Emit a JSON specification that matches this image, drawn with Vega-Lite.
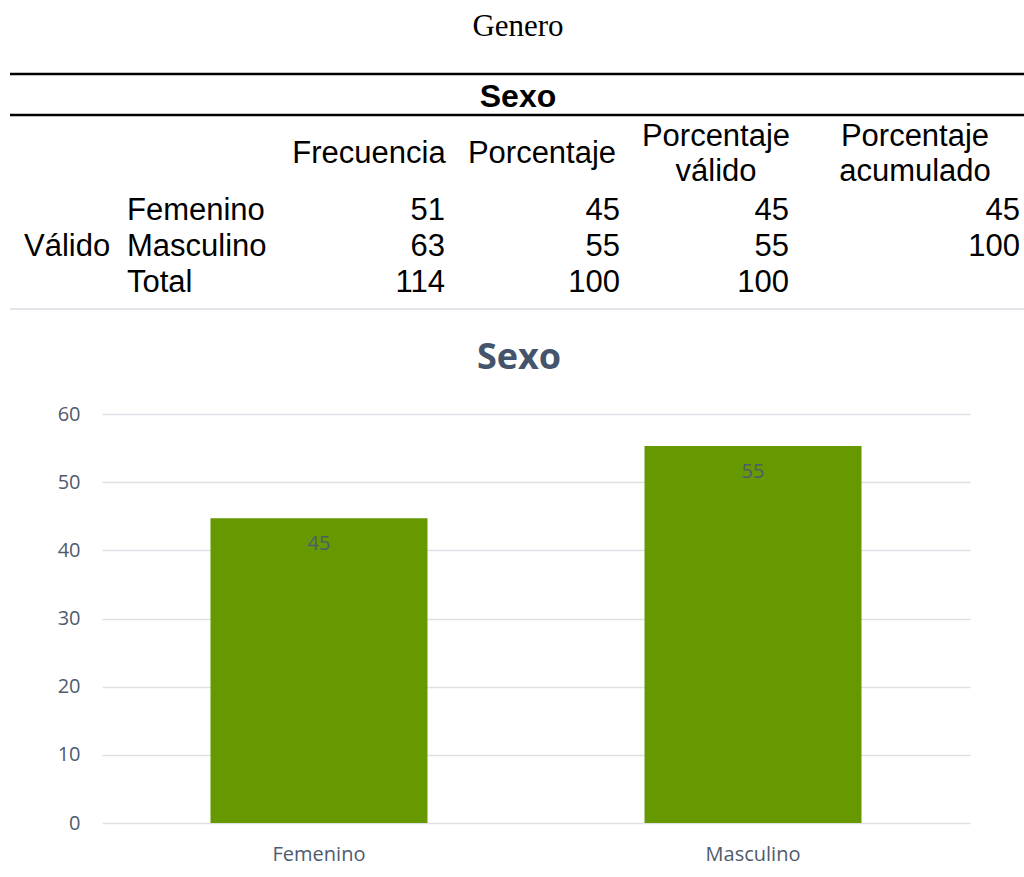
{
  "$schema": "https://vega.github.io/schema/vega-lite/v6.json",
  "padding": 0,
  "background": "white",
  "spacing": 30,
  "config": {"view": {"stroke": null}, "font": "Liberation Sans"},
  "datasets": {
    "titulo": [{"texto": "Genero", "fila": 0, "ancla": 5}],
    "encabezado": [{"texto": "Sexo", "fila": 2, "ancla": 5}],
    "reglas": [{"fila": 1, "desde": 0, "hasta": 12}, {"fila": 3, "desde": 0, "hasta": 12}],
    "reglaFinal": [{"fila": 8, "desde": 0, "hasta": 12}],
    "columnas": [
      {"texto": "Frecuencia", "fila": 4, "ancla": 3},
      {"texto": "Porcentaje", "fila": 4, "ancla": 6}
    ],
    "columnasDobles": [
      {"texto": "Porcentaje\nválido", "fila": 4, "ancla": 8},
      {"texto": "Porcentaje\nacumulado", "fila": 4, "ancla": 10}
    ],
    "etiquetas": [
      {"texto": "Válido", "fila": 6, "ancla": 1},
      {"texto": "Femenino", "fila": 5, "ancla": 2},
      {"texto": "Masculino", "fila": 6, "ancla": 2},
      {"texto": "Total", "fila": 7, "ancla": 2}
    ],
    "valores": [
      {"valor": "51", "fila": 5, "ancla": 4},
      {"valor": "45", "fila": 5, "ancla": 7},
      {"valor": "45", "fila": 5, "ancla": 9},
      {"valor": "45", "fila": 5, "ancla": 11},
      {"valor": "63", "fila": 6, "ancla": 4},
      {"valor": "55", "fila": 6, "ancla": 7},
      {"valor": "55", "fila": 6, "ancla": 9},
      {"valor": "100", "fila": 6, "ancla": 11},
      {"valor": "114", "fila": 7, "ancla": 4},
      {"valor": "100", "fila": 7, "ancla": 7},
      {"valor": "100", "fila": 7, "ancla": 9}
    ],
    "grafico": [
      {"sexo": "Femenino", "porcentaje": 44.7},
      {"sexo": "Masculino", "porcentaje": 55.3}
    ]
  },
  "vconcat": [
    {
      "width": 922,
      "height": 310,
      "layer": [
        {
          "data": {"name": "reglas"},
          "mark": {"type": "rule", "color": "black", "strokeWidth": 2.5},
          "encoding": {
            "x": {"field": "desde", "type": "quantitative", "axis": null,
              "scale": {"type": "linear", "domain": [0, 1, 2, 3, 4, 5, 6, 7, 8, 9, 10, 11, 12], "range": [-92, -78, 25, 267, 343, 416, 440, 518, 614, 687, 813, 918, 922], "nice": false, "zero": false}},
            "x2": {"field": "hasta"},
            "y": {"field": "fila", "type": "quantitative", "axis": null,
              "scale": {"type": "linear", "domain": [0, 1, 2, 3, 4, 5, 6, 7, 8], "range": [27, 74, 97, 115, 154, 211, 247, 283, 309], "nice": false, "zero": false}}
          }
        },
        {
          "data": {"name": "reglaFinal"},
          "mark": {"type": "rule", "color": "#d9dde3", "strokeWidth": 1.5},
          "encoding": {
            "x": {"field": "desde", "type": "quantitative", "axis": null,
              "scale": {"type": "linear", "domain": [0, 1, 2, 3, 4, 5, 6, 7, 8, 9, 10, 11, 12], "range": [-92, -78, 25, 267, 343, 416, 440, 518, 614, 687, 813, 918, 922], "nice": false, "zero": false}},
            "x2": {"field": "hasta"},
            "y": {"field": "fila", "type": "quantitative", "axis": null,
              "scale": {"type": "linear", "domain": [0, 1, 2, 3, 4, 5, 6, 7, 8], "range": [27, 74, 97, 115, 154, 211, 247, 283, 309], "nice": false, "zero": false}}
          }
        },
        {
          "data": {"name": "titulo"},
          "mark": {"type": "text", "font": "Liberation Serif", "fontSize": 31, "align": "center", "baseline": "middle", "color": "black"},
          "encoding": {
            "x": {"field": "ancla", "type": "quantitative", "axis": null,
              "scale": {"type": "linear", "domain": [0, 1, 2, 3, 4, 5, 6, 7, 8, 9, 10, 11, 12], "range": [-92, -78, 25, 267, 343, 416, 440, 518, 614, 687, 813, 918, 922], "nice": false, "zero": false}},
            "y": {"field": "fila", "type": "quantitative", "axis": null,
              "scale": {"type": "linear", "domain": [0, 1, 2, 3, 4, 5, 6, 7, 8], "range": [27, 74, 97, 115, 154, 211, 247, 283, 309], "nice": false, "zero": false}},
            "text": {"field": "texto", "type": "nominal"}
          }
        },
        {
          "data": {"name": "encabezado"},
          "mark": {"type": "text", "font": "Liberation Sans", "fontSize": 32, "fontWeight": "bold", "align": "center", "baseline": "middle", "color": "black"},
          "encoding": {
            "x": {"field": "ancla", "type": "quantitative", "axis": null,
              "scale": {"type": "linear", "domain": [0, 1, 2, 3, 4, 5, 6, 7, 8, 9, 10, 11, 12], "range": [-92, -78, 25, 267, 343, 416, 440, 518, 614, 687, 813, 918, 922], "nice": false, "zero": false}},
            "y": {"field": "fila", "type": "quantitative", "axis": null,
              "scale": {"type": "linear", "domain": [0, 1, 2, 3, 4, 5, 6, 7, 8], "range": [27, 74, 97, 115, 154, 211, 247, 283, 309], "nice": false, "zero": false}},
            "text": {"field": "texto", "type": "nominal"}
          }
        },
        {
          "data": {"name": "columnas"},
          "mark": {"type": "text", "font": "Liberation Sans", "fontSize": 31, "align": "center", "baseline": "middle", "color": "black"},
          "encoding": {
            "x": {"field": "ancla", "type": "quantitative", "axis": null,
              "scale": {"type": "linear", "domain": [0, 1, 2, 3, 4, 5, 6, 7, 8, 9, 10, 11, 12], "range": [-92, -78, 25, 267, 343, 416, 440, 518, 614, 687, 813, 918, 922], "nice": false, "zero": false}},
            "y": {"field": "fila", "type": "quantitative", "axis": null,
              "scale": {"type": "linear", "domain": [0, 1, 2, 3, 4, 5, 6, 7, 8], "range": [27, 74, 97, 115, 154, 211, 247, 283, 309], "nice": false, "zero": false}},
            "text": {"field": "texto", "type": "nominal"}
          }
        },
        {
          "data": {"name": "columnasDobles"},
          "mark": {"type": "text", "font": "Liberation Sans", "fontSize": 31, "align": "center", "baseline": "middle", "lineBreak": "\n", "lineHeight": 35, "dy": -17, "color": "black"},
          "encoding": {
            "x": {"field": "ancla", "type": "quantitative", "axis": null,
              "scale": {"type": "linear", "domain": [0, 1, 2, 3, 4, 5, 6, 7, 8, 9, 10, 11, 12], "range": [-92, -78, 25, 267, 343, 416, 440, 518, 614, 687, 813, 918, 922], "nice": false, "zero": false}},
            "y": {"field": "fila", "type": "quantitative", "axis": null,
              "scale": {"type": "linear", "domain": [0, 1, 2, 3, 4, 5, 6, 7, 8], "range": [27, 74, 97, 115, 154, 211, 247, 283, 309], "nice": false, "zero": false}},
            "text": {"field": "texto", "type": "nominal"}
          }
        },
        {
          "data": {"name": "etiquetas"},
          "mark": {"type": "text", "font": "Liberation Sans", "fontSize": 31, "align": "left", "baseline": "middle", "color": "black"},
          "encoding": {
            "x": {"field": "ancla", "type": "quantitative", "axis": null,
              "scale": {"type": "linear", "domain": [0, 1, 2, 3, 4, 5, 6, 7, 8, 9, 10, 11, 12], "range": [-92, -78, 25, 267, 343, 416, 440, 518, 614, 687, 813, 918, 922], "nice": false, "zero": false}},
            "y": {"field": "fila", "type": "quantitative", "axis": null,
              "scale": {"type": "linear", "domain": [0, 1, 2, 3, 4, 5, 6, 7, 8], "range": [27, 74, 97, 115, 154, 211, 247, 283, 309], "nice": false, "zero": false}},
            "text": {"field": "texto", "type": "nominal"}
          }
        },
        {
          "data": {"name": "valores"},
          "mark": {"type": "text", "font": "Liberation Sans", "fontSize": 31, "align": "right", "baseline": "middle", "color": "black"},
          "encoding": {
            "x": {"field": "ancla", "type": "quantitative", "axis": null,
              "scale": {"type": "linear", "domain": [0, 1, 2, 3, 4, 5, 6, 7, 8, 9, 10, 11, 12], "range": [-92, -78, 25, 267, 343, 416, 440, 518, 614, 687, 813, 918, 922], "nice": false, "zero": false}},
            "y": {"field": "fila", "type": "quantitative", "axis": null,
              "scale": {"type": "linear", "domain": [0, 1, 2, 3, 4, 5, 6, 7, 8], "range": [27, 74, 97, 115, 154, 211, 247, 283, 309], "nice": false, "zero": false}},
            "text": {"field": "valor", "type": "nominal"}
          }
        }
      ]
    },
    {
      "width": 868,
      "height": 409,
      "data": {"name": "grafico"},
      "title": {"text": "Sexo", "font": "Open Sans", "fontSize": 36, "fontWeight": "bold", "color": "#44546a", "frame": "group", "anchor": "middle", "dx": -17, "offset": 27},
      "encoding": {
        "x": {"field": "sexo", "type": "nominal", "sort": null,
          "scale": {"paddingInner": 0.5, "paddingOuter": 0.25},
          "axis": {"title": null, "labelAngle": 0, "domain": false, "ticks": false, "labelPadding": 21, "labelFontSize": 20, "labelFont": "Open Sans", "labelColor": "#4f5b6e"}},
        "y": {"field": "porcentaje", "type": "quantitative",
          "scale": {"domain": [0, 60], "nice": false},
          "axis": {"title": null, "values": [0, 10, 20, 30, 40, 50, 60], "domain": false, "ticks": false, "labelPadding": 22, "labelFontSize": 20, "labelFont": "Open Sans", "labelColor": "#4f5b6e", "gridColor": "#dde1e6", "gridWidth": 1.5, "minExtent": 102, "maxExtent": 102}}
      },
      "layer": [
        {"mark": {"type": "bar", "color": "#669900"}},
        {"mark": {"type": "text", "baseline": "middle", "dy": 26, "font": "Open Sans", "fontSize": 20, "color": "#4f5b6e"},
          "encoding": {"text": {"field": "porcentaje", "type": "quantitative", "format": ".0f"}}}
      ]
    }
  ]
}
